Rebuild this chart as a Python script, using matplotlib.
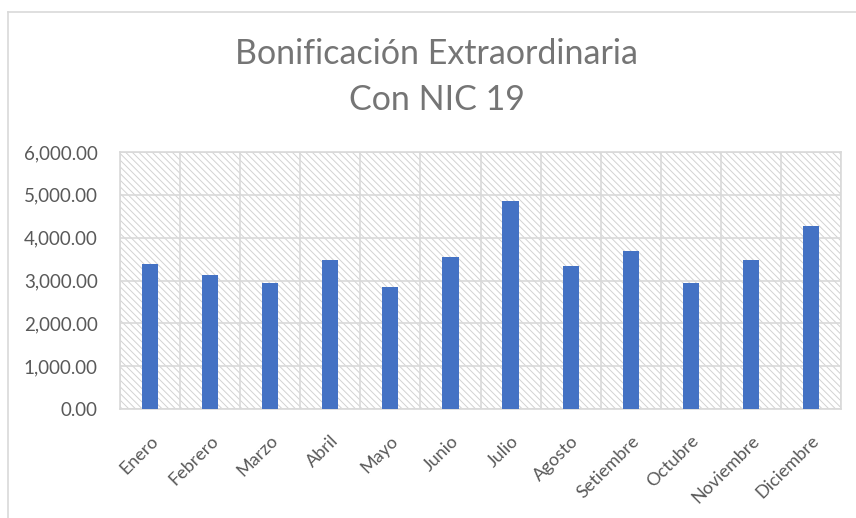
import numpy as np
import matplotlib
matplotlib.use("Agg")
import matplotlib.pyplot as plt
from matplotlib.patches import Rectangle
from matplotlib.lines import Line2D
from matplotlib.ticker import FuncFormatter

# data
meses = ['Enero', 'Febrero', 'Marzo', 'Abril', 'Mayo', 'Junio', 'Julio',
         'Agosto', 'Setiembre', 'Octubre', 'Noviembre', 'Diciembre']
bonificacion = [3388, 3140, 2930, 3481, 2853, 3558, 4845,
                3342, 3682, 2930, 3472, 4263]
y_ticks = [0, 1000, 2000, 3000, 4000, 5000, 6000]
titulo = 'Bonificación Extraordinaria\nCon NIC 19'

plt.rcParams['font.family'] = ['Lato', 'DejaVu Sans']
plt.rcParams['hatch.linewidth'] = 0.7

grid_col = '#d9d9d9'
text_col = '#595959'

fig = plt.figure(figsize=(8.56, 5.18), dpi=100)
ax = fig.add_axes([120 / 856, 1 - 409 / 518, 721 / 856, 257 / 518])

# hatched plot area
ax.add_patch(Rectangle((0, 0), 1, 1, transform=ax.transAxes, facecolor='white',
                       edgecolor='#d2d2d2', hatch='\\\\\\\\\\', linewidth=0, zorder=0))

x = np.arange(len(meses))
ax.bar(x, bonificacion, width=0.27, color='#4472c4', zorder=3)

ax.set_xlim(-0.5, len(meses) - 0.5)
ax.set_ylim(0, 6000)
ax.set_yticks(y_ticks)
ax.yaxis.set_major_formatter(FuncFormatter(lambda v, p: f'{v:,.2f}'))
ax.set_xticks(x)
ax.set_xticklabels(meses, rotation=45, ha='right', va='top',
                   rotation_mode='anchor')

# gridlines on category boundaries and values
ax.set_xticks(np.arange(-0.5, len(meses), 1), minor=True)
ax.grid(True, which='minor', axis='x', color=grid_col, linewidth=1.2, zorder=1)
ax.grid(True, which='major', axis='y', color=grid_col, linewidth=1.2, zorder=1)
ax.set_axisbelow(True)

ax.tick_params(axis='both', which='both', length=0, colors=text_col)
ax.tick_params(axis='y', pad=16, labelsize=13.5)
ax.tick_params(axis='x', pad=17, labelsize=13)
for s in ax.spines.values():
    s.set_color(grid_col)
    s.set_linewidth(1.2)

fig.text(0.5105, 0.851, titulo, ha='center', va='center', fontsize=24.5,
         color='#757575', linespacing=1.55)

# chart frame
fig.add_artist(Line2D([8 / 856, 8 / 856], [0, 1 - 11.5 / 518], color=grid_col,
                      linewidth=1.2, transform=fig.transFigure))
fig.add_artist(Line2D([8 / 856, 1], [1 - 11.5 / 518, 1 - 11.5 / 518], color=grid_col,
                      linewidth=1.2, transform=fig.transFigure))

fig.savefig('out.png', dpi=100)
